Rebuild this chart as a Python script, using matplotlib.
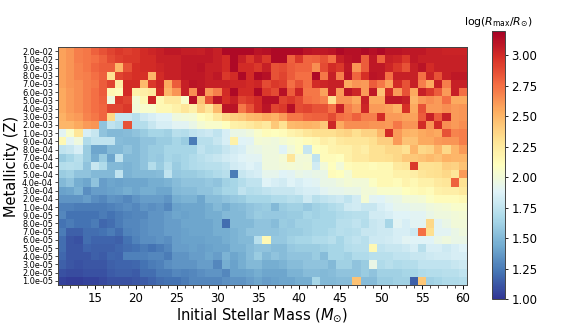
import numpy as np
import matplotlib
matplotlib.use("Agg")
import matplotlib.pyplot as plt

W, H = 576, 336

# initial masses, one column per solar mass
masses = list(range(11, 61))
mass_ticks = [15, 20, 25, 30, 35, 40, 45, 50, 55, 60]
cbar_ticks = [1.00, 1.25, 1.50, 1.75, 2.00, 2.25, 2.50, 2.75, 3.00]

# top row first, as in the picture
z_labels = [
    "2.0e-02", "1.0e-02",
    "9.0e-03", "8.0e-03", "7.0e-03", "6.0e-03", "5.0e-03", "4.0e-03", "3.0e-03", "2.0e-03", "1.0e-03",
    "9.0e-04", "8.0e-04", "7.0e-04", "6.0e-04", "5.0e-04", "4.0e-04", "3.0e-04", "2.0e-04", "1.0e-04",
    "9.0e-05", "8.0e-05", "7.0e-05", "6.0e-05", "5.0e-05", "4.0e-05", "3.0e-05", "2.0e-05", "1.0e-05",
]

# log(Rmax/Rsun), row per metallicity (top to bottom)
log_rmax = [
    [2.58,2.62,2.7,2.72,2.8,2.85,2.9,2.95,2.92,2.95,3.0,3.02,3.05,3.08,3.08,3.06,3.06,3.05,3.08,3.05,3.15,3.15,3.15,3.15,3.1,
     3.12,3.15,3.15,3.15,3.15,3.1,3.08,3.08,3.1,3.15,3.12,3.12,3.15,3.12,3.15,3.1,3.1,3.08,3.08,3.08,3.05,3.05,3.03,3.03,3.03],
    [2.58,2.62,2.7,2.72,2.75,2.8,2.88,2.92,2.95,2.95,3.0,3.0,3.05,3.05,3.05,3.08,3.08,3.08,3.08,3.05,3.0,3.15,3.05,2.95,3.05,
     2.95,3.15,3.15,2.8,2.95,2.78,2.8,2.85,2.75,3.05,3.1,3.12,2.82,3.08,2.8,3.05,3.02,2.95,3.08,3.05,3.05,3.05,3.05,3.05,3.05],
    [2.58,2.62,2.68,2.72,2.78,2.82,2.82,2.5,2.85,2.98,3.0,3.0,3.02,3.05,3.05,3.08,3.08,3.1,3.05,3.05,3.0,3.15,3.0,3.0,2.95,
     3.05,2.85,2.88,2.82,2.78,2.78,2.65,2.88,3.0,2.95,3.08,2.62,2.82,3.08,3.08,3.02,2.95,2.85,3.05,3.1,3.0,3.05,3.05,3.05,3.05],
    [2.58,2.62,2.68,2.7,2.75,2.8,2.3,2.9,2.95,2.98,2.98,2.5,3.0,3.05,3.05,3.08,3.08,3.08,3.05,3.08,2.95,3.0,3.15,3.0,3.15,
     3.12,2.85,2.9,2.82,2.75,2.75,3.15,2.72,3.05,2.7,3.1,2.78,2.98,3.1,3.08,2.75,3.05,3.05,3.05,2.75,3.03,2.85,3.05,3.08,3.08],
    [2.58,2.62,2.65,2.7,2.72,2.82,2.9,2.22,3.0,3.0,2.48,2.95,3.02,2.55,2.82,3.05,3.1,3.08,3.05,3.05,3.05,3.02,3.02,3.0,3.02,
     2.88,2.95,2.92,2.75,2.85,2.75,3.0,3.02,3.05,3.05,2.55,2.62,2.6,2.82,2.72,2.58,3.0,2.85,3.05,2.7,2.55,3.05,2.7,3.05,3.05],
    [2.55,2.6,2.65,2.7,2.75,2.82,2.15,2.12,3.0,2.2,2.22,2.25,3.0,2.5,2.62,3.05,2.65,3.1,2.6,2.7,3.0,3.15,3.0,3.0,3.15,
     2.95,2.88,3.12,2.82,3.02,2.72,2.72,2.58,3.05,2.6,3.1,3.02,2.6,3.08,2.45,3.0,2.6,2.85,2.55,3.05,2.95,2.82,2.6,3.05,2.75],
    [2.55,2.6,2.65,2.7,2.75,2.8,1.98,2.95,2.9,2.02,2.15,3.02,2.15,2.25,2.25,2.05,3.12,2.45,2.85,3.1,2.98,3.05,2.9,2.95,3.0,
     3.12,3.12,2.9,2.95,2.88,2.75,2.72,2.68,2.3,2.62,2.62,2.55,3.05,2.55,2.55,3.08,3.08,3.05,2.5,2.6,2.65,2.6,2.75,2.55,2.55],
    [2.55,2.6,2.65,2.7,2.75,2.78,2.9,2.9,2.95,2.0,2.05,2.05,2.15,2.15,2.2,2.28,2.2,2.38,2.28,2.48,3.1,3.1,2.72,2.85,3.0,
     3.1,2.9,2.95,3.12,2.88,2.9,2.85,2.85,2.75,3.05,2.7,2.62,3.02,2.6,2.6,2.58,2.52,2.98,2.55,2.85,2.6,2.6,2.65,2.6,2.62],
    [2.52,2.58,2.6,2.68,2.72,2.78,2.35,1.78,1.78,1.72,1.8,1.85,1.88,1.88,1.98,2.0,2.02,2.1,2.15,2.25,2.35,2.4,2.42,2.48,2.5,
     2.55,2.52,2.6,2.72,2.72,2.78,2.8,2.8,2.88,2.75,2.72,2.8,2.7,2.7,3.0,2.6,2.6,2.58,2.58,2.82,3.05,2.82,3.05,2.6,2.62],
    [2.5,2.5,2.55,2.6,2.62,1.55,1.75,1.7,2.85,1.7,1.7,1.78,1.85,1.85,1.9,1.9,1.95,2.02,2.05,2.05,2.1,2.2,2.22,2.25,2.3,
     2.25,2.42,2.3,2.48,2.5,2.52,2.5,2.42,3.02,2.55,2.65,2.65,2.65,2.62,2.62,2.6,2.72,2.62,2.62,3.0,2.62,3.0,2.65,2.6,2.65],
    [1.9,2.05,2.28,1.85,1.78,1.55,1.5,1.5,1.52,1.55,1.6,1.65,1.65,1.62,1.72,1.7,1.75,1.78,1.8,1.75,1.85,1.95,1.95,1.98,2.05,
     2.12,2.1,2.12,2.18,2.22,2.28,2.32,2.32,2.32,2.35,2.38,2.32,2.38,2.38,2.5,3.0,2.6,2.52,2.5,2.55,2.58,2.55,2.85,2.68,2.7],
    [2.15,1.9,1.98,1.68,1.75,1.75,1.75,1.52,1.5,1.5,1.55,1.55,1.6,1.6,1.65,1.6,1.25,1.72,1.72,1.78,1.85,2.2,1.88,1.9,2.02,
     2.0,1.98,2.02,2.05,2.08,2.12,2.15,2.22,2.18,2.25,2.28,2.28,2.28,2.32,2.4,2.4,2.6,2.45,2.45,2.55,2.55,2.6,2.62,2.62,2.7],
    [1.75,1.78,1.85,1.6,1.42,1.42,1.5,1.5,1.55,1.5,1.55,1.6,1.6,1.65,1.65,1.65,1.65,1.75,1.7,1.72,1.78,1.82,1.85,1.92,1.95,
     1.98,1.98,1.88,2.0,2.08,1.78,2.1,2.12,2.18,2.2,2.2,2.25,2.22,2.3,2.3,2.35,2.35,2.3,2.5,2.35,2.38,2.5,2.35,2.5,2.6],
    [1.6,1.65,1.72,1.6,1.45,1.6,1.42,1.75,1.5,1.5,1.55,1.6,1.58,1.65,1.62,1.65,1.68,1.72,1.75,1.78,1.82,1.85,1.88,1.9,1.9,
     1.98,1.98,2.02,2.28,2.0,2.0,1.75,2.12,2.12,2.1,2.2,2.25,2.25,2.3,2.3,2.32,2.35,2.42,2.42,2.45,2.48,2.45,2.52,2.5,2.5],
    [1.7,1.72,1.7,1.55,1.78,1.68,1.5,1.5,1.48,1.5,1.55,1.7,1.6,1.7,1.6,1.65,1.68,1.7,1.72,1.72,1.75,1.82,1.85,1.88,1.85,
     1.98,1.98,2.0,2.02,2.0,2.02,1.82,2.0,2.1,2.0,2.12,2.15,2.15,2.12,2.15,2.15,2.25,2.28,2.95,2.3,2.3,2.32,2.4,2.38,2.45],
    [1.6,1.62,1.55,1.55,1.5,1.5,1.5,1.75,1.48,1.5,1.5,1.5,1.52,1.75,1.58,1.6,1.6,1.62,1.65,1.68,1.72,1.25,1.78,1.82,1.85,
     1.92,1.92,1.88,1.9,1.95,1.92,1.95,1.95,2.12,2.1,2.02,2.15,2.15,2.15,2.15,2.15,2.2,2.2,2.22,2.28,2.3,2.32,2.35,2.28,2.6],
    [1.5,1.55,1.45,1.42,1.55,1.38,1.42,1.4,1.42,1.42,1.42,1.45,1.45,1.48,1.52,1.55,1.55,1.55,1.58,1.55,1.62,1.65,1.7,1.75,1.75,
     1.88,1.85,1.82,1.88,1.85,1.88,1.9,1.95,1.95,1.98,2.02,2.0,2.0,2.08,2.15,2.15,2.12,2.18,2.15,2.2,2.2,2.25,2.28,2.8,2.3],
    [1.4,1.42,1.48,1.32,1.38,1.38,1.4,1.42,1.45,1.42,1.45,1.45,1.42,1.42,1.5,1.52,1.52,1.55,1.55,1.6,1.65,1.65,1.75,1.7,1.72,
     1.75,1.78,1.78,1.78,1.82,1.85,1.85,1.9,1.92,1.92,1.95,1.95,2.0,2.0,2.05,2.05,2.05,2.1,2.12,2.15,2.12,2.2,2.22,2.22,2.25],
    [1.35,1.35,1.35,1.38,1.32,1.3,1.35,1.33,1.3,1.35,1.38,1.38,1.38,1.35,1.45,1.48,1.48,1.42,1.52,1.52,1.55,1.58,1.6,1.65,1.65,
     1.65,1.68,1.68,1.72,1.7,1.8,1.72,1.75,1.78,1.8,1.75,1.82,2.02,1.9,1.88,1.92,1.95,2.0,2.0,2.02,2.08,2.12,2.12,2.12,2.15],
    [1.27,1.27,1.25,1.25,1.25,1.25,1.27,1.3,1.32,1.3,1.35,1.32,1.35,1.3,1.4,1.42,1.42,1.42,1.45,1.5,1.45,1.5,1.52,1.55,1.58,
     1.6,1.5,1.6,1.62,1.62,1.58,1.62,1.65,1.68,1.72,1.8,1.82,1.78,1.78,1.85,1.88,1.92,1.92,1.95,1.95,1.98,2.0,2.02,2.05,2.05],
    [1.3,1.22,1.22,1.22,1.22,1.25,1.22,1.25,1.28,1.3,1.3,1.35,1.35,1.38,1.42,1.4,1.42,1.42,1.45,1.45,1.5,1.5,1.5,1.55,1.6,
     1.58,1.58,1.58,1.6,1.6,1.65,1.62,1.65,1.65,1.68,1.7,1.72,1.72,1.82,1.82,1.85,1.88,1.88,1.9,1.9,1.95,1.98,1.98,2.0,2.02],
    [1.22,1.25,1.22,1.22,1.25,1.18,1.2,1.25,1.3,1.3,1.32,1.35,1.35,1.38,1.38,1.42,1.42,1.42,1.42,1.45,1.2,1.5,1.5,1.5,1.55,
     1.55,1.52,1.6,1.58,1.62,1.62,1.65,1.65,1.65,1.72,1.72,1.75,1.7,1.78,1.8,1.65,1.9,1.85,1.9,1.9,2.35,1.9,1.95,2.0,2.0],
    [1.25,1.15,1.15,1.2,1.2,1.22,1.25,1.2,1.28,1.3,1.32,1.35,1.35,1.38,1.38,1.4,1.42,1.42,1.42,1.45,1.45,1.48,1.5,1.55,1.55,
     1.55,1.55,1.58,1.6,1.6,1.62,1.65,1.65,1.68,1.72,1.7,1.72,1.78,1.78,1.8,1.8,1.85,1.85,1.8,2.75,2.32,1.9,1.9,1.95,1.98],
    [1.2,1.12,1.1,1.2,1.17,1.17,1.17,1.15,1.22,1.28,1.32,1.32,1.35,1.32,1.38,1.4,1.4,1.4,1.42,1.42,1.45,1.48,1.5,1.5,1.72,
     2.15,1.58,1.58,1.62,1.65,1.65,1.68,1.68,1.72,1.65,1.72,1.75,1.72,1.8,1.8,1.82,1.85,1.9,1.88,1.88,1.88,1.95,1.98,1.95,1.95],
    [1.2,1.12,1.12,1.17,1.15,1.15,1.15,1.18,1.2,1.22,1.25,1.22,1.25,1.3,1.38,1.38,1.4,1.38,1.4,1.42,1.42,1.48,1.48,1.52,1.55,
     1.55,1.52,1.52,1.58,1.6,1.6,1.6,1.62,1.65,1.65,1.7,1.72,1.72,2.15,1.75,1.78,1.78,1.8,1.85,1.72,1.85,1.85,1.8,1.85,1.88],
    [1.18,1.12,1.12,1.12,1.15,1.13,1.18,1.17,1.27,1.27,1.27,1.3,1.3,1.25,1.35,1.35,1.38,1.38,1.42,1.38,1.48,1.42,1.45,1.52,1.6,
     1.5,1.55,1.52,1.55,1.55,1.55,1.6,1.52,1.65,1.65,1.62,1.68,1.68,1.72,1.72,1.72,1.75,1.75,1.78,1.78,1.8,1.82,1.82,1.85,1.85],
    [1.15,1.12,1.1,1.12,1.12,1.12,1.15,1.17,1.17,1.18,1.22,1.25,1.27,1.32,1.35,1.35,1.35,1.38,1.38,1.3,1.45,1.4,1.45,1.5,1.5,
     1.45,1.45,1.48,1.52,1.52,1.55,1.55,1.55,1.5,1.62,1.62,1.55,1.6,1.95,1.68,1.72,1.68,1.7,1.7,1.75,1.75,1.75,1.75,1.78,1.8],
    [1.1,1.08,1.08,1.1,1.1,1.1,1.13,1.15,1.15,1.13,1.2,1.2,1.25,1.25,1.3,1.28,1.3,1.32,1.35,1.35,1.3,1.4,1.4,1.42,1.45,
     1.42,1.42,1.42,1.48,1.48,1.52,1.52,1.5,1.52,1.55,1.55,1.55,1.6,1.55,1.62,1.62,1.62,1.65,1.65,1.68,1.7,1.7,1.72,1.72,1.75],
    [1.05,1.03,1.03,1.05,1.05,1.07,1.1,1.1,1.1,1.12,1.13,1.17,1.2,1.22,1.22,1.25,1.3,1.3,1.3,1.3,1.33,1.35,1.35,1.38,1.42,
     1.38,1.4,1.42,1.42,1.45,1.45,1.65,1.5,1.5,1.52,1.52,2.45,1.52,1.52,1.6,1.6,1.62,1.62,1.15,2.42,1.62,1.65,1.68,1.68,1.7],
]


def axes_box(left, top, right, bottom):
    return [left / W, 1 - bottom / H, (right - left) / W, (bottom - top) / H]


def main():
    grid = np.array(log_rmax)
    fig = plt.figure(figsize=(W / 100, H / 100), dpi=100)
    ax = fig.add_axes(axes_box(58, 47, 467, 285))

    im = ax.imshow(grid, cmap="RdYlBu_r", vmin=1.0, vmax=3.2, aspect="auto",
                   extent=[masses[0] - 0.5, masses[-1] + 0.5, len(z_labels) - 0.5, -0.5],
                   interpolation="nearest")

    ax.set_xticks(mass_ticks)
    ax.set_xticks(masses, minor=True)
    ax.tick_params(axis="x", which="major", labelsize=8.5, length=3, width=0.7, pad=2)
    ax.tick_params(axis="x", which="minor", length=1.8, width=0.5)
    ax.set_yticks(range(len(z_labels)))
    ax.set_yticklabels(z_labels)
    ax.tick_params(axis="y", labelsize=5.9, length=2, width=0.5, pad=1.5)
    ax.set_xlabel(r"Initial Stellar Mass ($M_{\odot}$)", fontsize=10.5, labelpad=1)
    ax.set_ylabel("Metallicity (Z)", fontsize=10.5, labelpad=2)
    for spine in ax.spines.values():
        spine.set_linewidth(0.7)
        spine.set_color("#444444")

    cax = fig.add_axes(axes_box(492, 31, 505, 299))
    cbar = fig.colorbar(im, cax=cax)
    cbar.set_ticks(cbar_ticks)
    cbar.ax.set_yticklabels([f"{t:.2f}" for t in cbar_ticks])
    cbar.ax.tick_params(labelsize=8.5, length=2.5, width=0.6, pad=2)
    cbar.outline.set_linewidth(0.7)
    cbar.outline.set_edgecolor("#444444")
    cax.set_title(r"$\log(R_{\max}/R_{\odot})$", fontsize=7.8, pad=4)

    fig.savefig("out.png", dpi=100)


if __name__ == "__main__":
    main()
